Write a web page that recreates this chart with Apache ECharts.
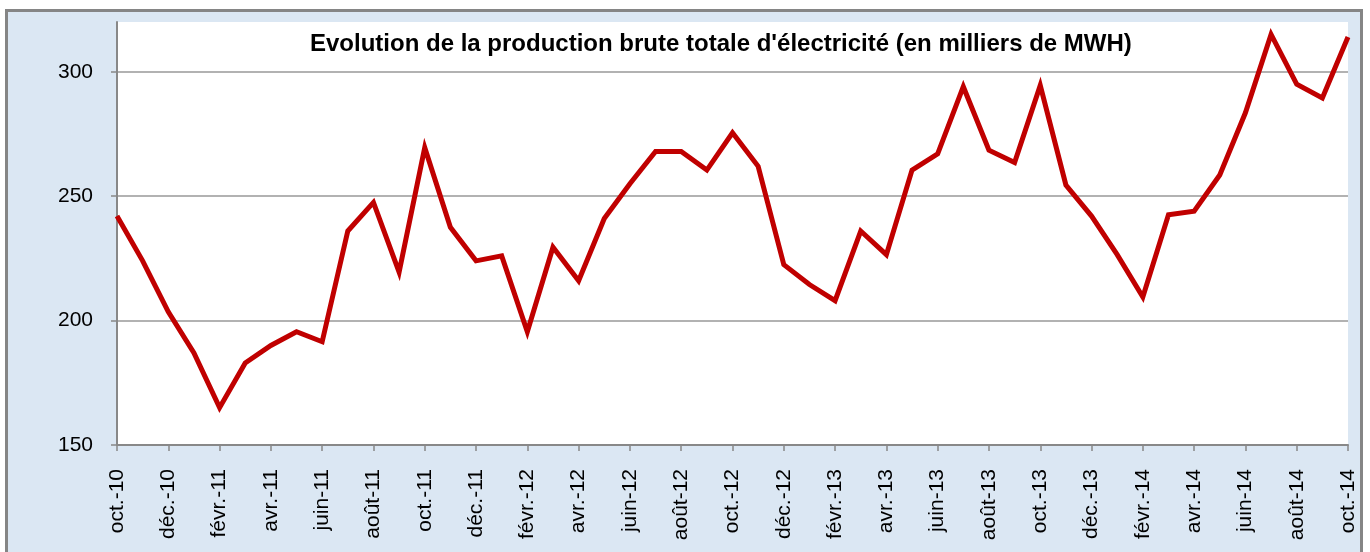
<!DOCTYPE html>
<html>
<head>
<meta charset="utf-8">
<script src="https://cdn.jsdelivr.net/npm/echarts@6/dist/echarts.min.js"></script>
<style>
	html, body { margin: 0; padding: 0; background: #fff; }
	#frame {
		position: absolute;
		left: 5px;
		top: 9px;
		width: 1358px;
		height: 560px;
		border: 3px solid #858585;
		background: #dbe7f3;
		box-sizing: border-box;
	}
	#chart { position: absolute; left: 0; top: 0; width: 1370px; height: 552px; }
</style>
</head>
<body>
<div id="frame"></div>
<div id="chart"></div>
<script>
// Monthly labels, oct. 2010 -> oct. 2014
const months = [
	"oct.-10", "nov.-10", "déc.-10",
	"janv.-11", "févr.-11", "mars-11", "avr.-11", "mai-11", "juin-11",
	"juil.-11", "août-11", "sept.-11", "oct.-11", "nov.-11", "déc.-11",
	"janv.-12", "févr.-12", "mars-12", "avr.-12", "mai-12", "juin-12",
	"juil.-12", "août-12", "sept.-12", "oct.-12", "nov.-12", "déc.-12",
	"janv.-13", "févr.-13", "mars-13", "avr.-13", "mai-13", "juin-13",
	"juil.-13", "août-13", "sept.-13", "oct.-13", "nov.-13", "déc.-13",
	"janv.-14", "févr.-14", "mars-14", "avr.-14", "mai-14", "juin-14",
	"juil.-14", "août-14", "sept.-14", "oct.-14",
];

// Production brute totale (milliers de MWH)
const production = [
	242, 224, 203.5,
	187, 165, 183, 190, 195.5, 191.5,
	236, 247.5, 219.5, 269.5, 237.5, 224,
	226, 195.5, 229.5, 216, 241, 255,
	268, 268, 260.5, 275.5, 262, 222.5,
	214.5, 208, 236, 226.5, 260.5, 267,
	294, 268.5, 263.5, 294.5, 254.5, 242,
	226.5, 209.5, 242.5, 244, 258.5, 283.5,
	315, 295, 289.5, 314,
];

const yMin = 150;
const yMax = 320;
const yStep = 50;

const titleText = "Evolution de la production brute totale d'électricité (en milliers de MWH)";

const chart = echarts.init(document.getElementById("chart"), null, { renderer: "canvas" });

const option = {
	animation: false,
	backgroundColor: "transparent",
	textStyle: { fontFamily: "Liberation Sans, Arial, sans-serif" },
	title: {
		text: titleText,
		left: 310,
		top: 32,
		padding: 0,
		textStyle: {
			fontFamily: "Liberation Sans, Arial, sans-serif",
			fontSize: 24,
			fontWeight: "bold",
			color: "#000",
		},
	},
	grid: {
		left: 117,
		right: 22,
		top: 22,
		bottom: 107,
		show: true,
		backgroundColor: "#fff",
		borderWidth: 0,
	},
	xAxis: {
		type: "category",
		data: months,
		boundaryGap: false,
		axisLine: { lineStyle: { color: "#888", width: 2 } },
		axisTick: { interval: 1, length: 6, lineStyle: { color: "#888", width: 1.5 } },
		axisLabel: {
			interval: 1,
			rotate: 90,
			margin: 24,
			fontSize: 21,
			color: "#000",
			fontFamily: "Liberation Sans, Arial, sans-serif",
		},
		splitLine: { show: false },
	},
	yAxis: {
		type: "value",
		min: yMin,
		max: yMax,
		interval: yStep,
		axisLine: { show: true, lineStyle: { color: "#888", width: 2 } },
		axisTick: { show: true, length: 6, lineStyle: { color: "#888", width: 1.5 } },
		axisLabel: {
			margin: 24,
			fontSize: 21,
			color: "#000",
			showMaxLabel: false,
			fontFamily: "Liberation Sans, Arial, sans-serif",
		},
		splitLine: {
			show: true,
			showMinLine: false,
			showMaxLine: false,
			lineStyle: { color: "#999", width: 1.5 },
		},
	},
	series: [
		{
			type: "line",
			data: production,
			symbol: "none",
			lineStyle: { color: "#c00000", width: 5, join: "miter" },
			z: 5,
		},
	],
};

chart.setOption(option);
</script>
</body>
</html>
